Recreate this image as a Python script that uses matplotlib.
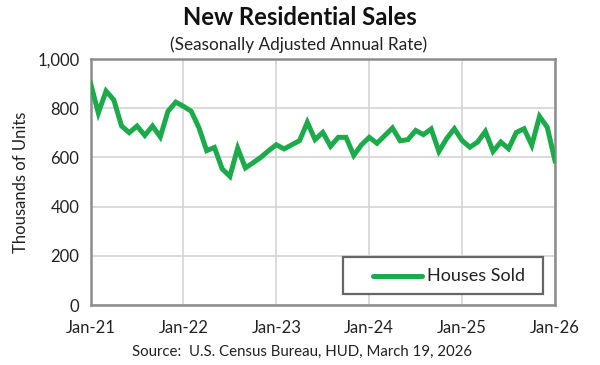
import matplotlib
matplotlib.use("Agg")
import matplotlib.pyplot as plt
from matplotlib.patches import Rectangle
from matplotlib.lines import Line2D
import numpy as np

plt.rcParams['font.family'] = ['Lato', 'DejaVu Sans']

# Monthly new home sales, Jan-2021 .. Jan-2026 (thousands, SAAR)
sales = [900, 780, 869, 833, 727, 700, 727, 689, 727, 683, 787, 824,
         807, 787, 720, 627, 640, 553, 523, 637, 557, 578, 600, 627,
         651, 634, 651, 668, 742, 672, 701, 645, 681, 681, 608, 651,
         681, 657, 688, 719, 667, 672, 709, 692, 715, 624, 676, 716,
         668, 641, 662, 705, 624, 662, 635, 701, 716, 649, 766, 722,
         586]
tick_labels = ["Jan-21", "Jan-22", "Jan-23", "Jan-24", "Jan-25", "Jan-26"]
y_ticks = [0, 200, 400, 600, 800, 1000]
series_name = "Houses Sold"

green = "#1DAA4B"
frame = "#8c8c8c"
grid = "#d4d4d4"
text = "#222222"

fig = plt.figure(figsize=(6.0, 3.65), dpi=100)
ax = fig.add_axes([0.151, 0.164, 0.774, 0.675])

x = np.arange(len(sales))
ax.plot(x, sales, color=green, lw=3.6, solid_joinstyle='miter', zorder=3)

ax.set_xlim(0, 60)
ax.set_ylim(0, 1000)
ax.set_xticks(np.arange(0, 61, 12))
ax.set_xticklabels(tick_labels)
ax.set_yticks(y_ticks)
ax.set_yticklabels([f"{v:,}" for v in y_ticks])
ax.tick_params(length=0, labelsize=12, colors=text, pad=8)
ax.tick_params(axis='x', pad=11)
ax.grid(True, color=grid, lw=1.2)
ax.set_axisbelow(True)
for s in ax.spines.values():
    s.set_color(frame)
    s.set_linewidth(1.8)

ax.set_ylabel("Thousands of Units", fontsize=12, color=text, labelpad=6)

# legend box
ax.add_patch(Rectangle((0.543, 0.045), 0.431, 0.15, transform=ax.transAxes,
                       facecolor='white', edgecolor='#666666', lw=1.6, zorder=5))
ax.add_line(Line2D([0.608, 0.714], [0.12, 0.12], transform=ax.transAxes,
                   color=green, lw=3.6, solid_capstyle='round', zorder=6))
ax.text(0.724, 0.12, series_name, transform=ax.transAxes, ha='left', va='center',
        fontsize=13, color=text, zorder=6)

fig.text(0.5, 0.951, "New Residential Sales", ha='center', va='center',
         fontsize=17.2, fontweight='bold', color="#111111")
fig.text(0.498, 0.877, "(Seasonally Adjusted Annual Rate)", ha='center', va='center',
         fontsize=12.4, color=text)
fig.text(0.503, 0.035, "Source:  U.S. Census Bureau, HUD, March 19, 2026", ha='center',
         va='center', fontsize=10.8, color=text)

fig.savefig("out.png", dpi=100)
